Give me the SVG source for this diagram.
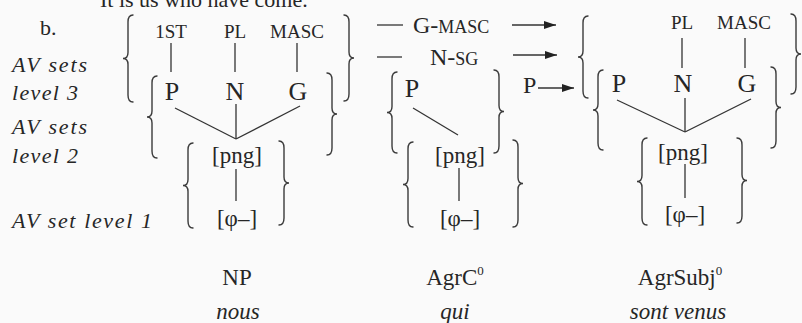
<svg xmlns="http://www.w3.org/2000/svg" width="802" height="323" viewBox="0 0 802 323" font-family="'Liberation Serif', 'DejaVu Serif', serif">
<style>
text{font-family:'Liberation Serif','DejaVu Serif',serif;fill:#262626}
.lab{font-style:italic;font-size:22px}
.sc{font-size:19px}
.big{font-size:26px}
.br{font-size:23px}
.mid{text-anchor:middle}
.brace{fill:none;stroke:#3a3a3a;stroke-width:1.4;stroke-linecap:round}
.ln{stroke:#333;stroke-width:1.3;fill:none}
</style>
<defs>
<marker id="ah" markerUnits="userSpaceOnUse" markerWidth="13" markerHeight="8" refX="12" refY="4" orient="auto">
<path d="M0,0 L12,4 L0,8 z" fill="#222"/>
</marker>
</defs>
<rect width="802" height="323" fill="#fafafa"/>
<text x="100" y="7" style="font-size:22px">It is us who have come.</text>
<g id="labels">
<text x="40" y="35" style="font-size:22px">b.</text>
<text class="lab" x="12" y="72" textLength="75" lengthAdjust="spacing">AV sets</text>
<text class="lab" x="12" y="100" textLength="66" lengthAdjust="spacing">level 3</text>
<text class="lab" x="12" y="134" textLength="75" lengthAdjust="spacing">AV sets</text>
<text class="lab" x="12" y="163" textLength="66" lengthAdjust="spacing">level 2</text>
<text class="lab" x="12" y="228" textLength="140" lengthAdjust="spacing">AV set level 1</text>
</g>
<g id="col1-level3">
<path class="brace" d="M133,15 c-3.5,0 -5,2 -5,7 v30.5 c0,4 -2,6 -5,6 c3,0 5,2 5,6 v30.5 c0,5 1.5,7 5,7"/>
<path class="brace" d="M344,15 c3.5,0 5,2 5,7 v30 c0,4 2,6 5,6 c-3,0 -5,2 -5,6 v30 c0,5 -1.5,7 -5,7"/>
<text class="sc mid" x="171" y="38">1ST</text>
<text class="sc mid" x="235" y="38">PL</text>
<text class="sc mid" x="297" y="38">MASC</text>
</g>
<g id="col1-level2">
<path class="brace" d="M157,76 c-3.5,0 -5,2 -5,7 v28 c0,4 -2,6 -5,6 c3,0 5,2 5,6 v28 c0,5 1.5,7 5,7"/>
<path class="brace" d="M327,73 c3.5,0 5,2 5,7 v28 c0,4 2,6 5,6 c-3,0 -5,2 -5,6 v28 c0,5 -1.5,7 -5,7"/>
<text class="big mid" x="172" y="100">P</text>
<text class="big mid" x="235" y="100">N</text>
<text class="big mid" x="298" y="100">G</text>
</g>
<g id="col1-level1">
<path class="brace" d="M193,143 c-3.5,0 -5,2 -5,7 v29.5 c0,4 -2,6 -5,6 c3,0 5,2 5,6 v29.5 c0,5 1.5,7 5,7"/>
<path class="brace" d="M279,141 c3.5,0 5,2 5,7 v29 c0,4 2,6 5,6 c-3,0 -5,2 -5,6 v29 c0,5 -1.5,7 -5,7"/>
<text class="br mid" x="237" y="163">[png]</text>
<text class="br mid" x="237" y="226">[φ–]</text>
</g>
<g id="col1-name">
<text class="br mid" x="237" y="285">NP</text>
<text class="br mid" x="238" y="319" style="font-style:italic">nous</text>
</g>
<g id="col2-features">
<text x="413" y="33" style="font-size:24px">G-<tspan style="font-size:18px">MASC</tspan></text>
<text x="430" y="65" style="font-size:24px">N-<tspan style="font-size:18px">SG</tspan></text>
<text x="523" y="93" style="font-size:24px">P</text>
</g>
<g id="col2-level2">
<path class="brace" d="M397,72 c-3.5,0 -5,2 -5,7 v27.5 c0,4 -2,6 -5,6 c3,0 5,2 5,6 v27.5 c0,5 1.5,7 5,7"/>
<path class="brace" d="M494,70 c3.5,0 5,2 5,7 v28.5 c0,4 2,6 5,6 c-3,0 -5,2 -5,6 v28.5 c0,5 -1.5,7 -5,7"/>
<text class="big mid" x="412" y="97">P</text>
</g>
<g id="col2-level1">
<path class="brace" d="M413,142 c-3.5,0 -5,2 -5,7 v29.5 c0,4 -2,6 -5,6 c3,0 5,2 5,6 v29.5 c0,5 1.5,7 5,7"/>
<path class="brace" d="M513,140 c3.5,0 5,2 5,7 v30.5 c0,4 2,6 5,6 c-3,0 -5,2 -5,6 v30.5 c0,5 -1.5,7 -5,7"/>
<text class="br mid" x="460" y="163">[png]</text>
<text class="br mid" x="460" y="226">[φ–]</text>
</g>
<g id="col2-name">
<text class="br mid" x="455" y="285">AgrC<tspan style="font-size:13px" dy="-10">0</tspan></text>
<text class="br mid" x="455" y="319" style="font-style:italic">qui</text>
</g>
<g id="col3-level3">
<path class="brace" d="M588,16 c-3.5,0 -5,2 -5,7 v28 c0,4 -2,6 -5,6 c3,0 5,2 5,6 v28 c0,5 1.5,7 5,7"/>
<path class="brace" d="M791,14 c3.5,0 5,2 5,7 v27 c0,4 2,6 5,6 c-3,0 -5,2 -5,6 v27 c0,5 -1.5,7 -5,7"/>
<text class="sc mid" x="682" y="29">PL</text>
<text class="sc mid" x="744" y="29">MASC</text>
</g>
<g id="col3-level2">
<path class="brace" d="M603,70 c-3.5,0 -5,2 -5,7 v27 c0,4 -2,6 -5,6 c3,0 5,2 5,6 v27 c0,5 1.5,7 5,7"/>
<path class="brace" d="M771,67 c3.5,0 5,2 5,7 v27.5 c0,4 2,6 5,6 c-3,0 -5,2 -5,6 v27.5 c0,5 -1.5,7 -5,7"/>
<text class="big mid" x="619" y="92">P</text>
<text class="big mid" x="683" y="92">N</text>
<text class="big mid" x="747" y="92">G</text>
</g>
<g id="col3-level1">
<path class="brace" d="M647,138 c-3.5,0 -5,2 -5,7 v30.5 c0,4 -2,6 -5,6 c3,0 5,2 5,6 v30.5 c0,5 1.5,7 5,7"/>
<path class="brace" d="M737,138 c3.5,0 5,2 5,7 v29.5 c0,4 2,6 5,6 c-3,0 -5,2 -5,6 v29.5 c0,5 -1.5,7 -5,7"/>
<text class="br mid" x="683" y="160">[png]</text>
<text class="br mid" x="685" y="222">[φ–]</text>
</g>
<g id="col3-name">
<text class="br mid" x="680" y="285">AgrSubj<tspan style="font-size:13px" dy="-10">0</tspan></text>
<text class="br mid" x="678" y="319" style="font-style:italic">sont venus</text>
</g>
<g id="connectors">
<line class="ln" x1="171" y1="43" x2="171" y2="72"/>
<line class="ln" x1="235" y1="43" x2="235" y2="72"/>
<line class="ln" x1="297" y1="43" x2="297" y2="72"/>
<line class="ln" x1="175" y1="108" x2="236" y2="139"/>
<line class="ln" x1="236" y1="104" x2="236" y2="139"/>
<line class="ln" x1="300" y1="106" x2="236" y2="139"/>
<line class="ln" x1="236" y1="169" x2="236" y2="201"/>
<line class="ln" x1="377" y1="25" x2="403" y2="25"/>
<line class="ln" x1="377" y1="57" x2="402" y2="57"/>
<line class="ln" x1="512" y1="25" x2="556" y2="25" marker-end="url(#ah)"/>
<line class="ln" x1="513" y1="55" x2="557" y2="55" marker-end="url(#ah)"/>
<line class="ln" x1="538" y1="88" x2="574" y2="88" marker-end="url(#ah)"/>
<line class="ln" x1="413" y1="108" x2="458" y2="135"/>
<line class="ln" x1="459" y1="168" x2="459" y2="201"/>
<line class="ln" x1="682" y1="38" x2="682" y2="68"/>
<line class="ln" x1="745" y1="38" x2="745" y2="68"/>
<line class="ln" x1="617" y1="100" x2="685" y2="132"/>
<line class="ln" x1="685" y1="98" x2="685" y2="132"/>
<line class="ln" x1="751" y1="99" x2="685" y2="132"/>
<line class="ln" x1="685" y1="164" x2="685" y2="198"/>
</g>
</svg>
